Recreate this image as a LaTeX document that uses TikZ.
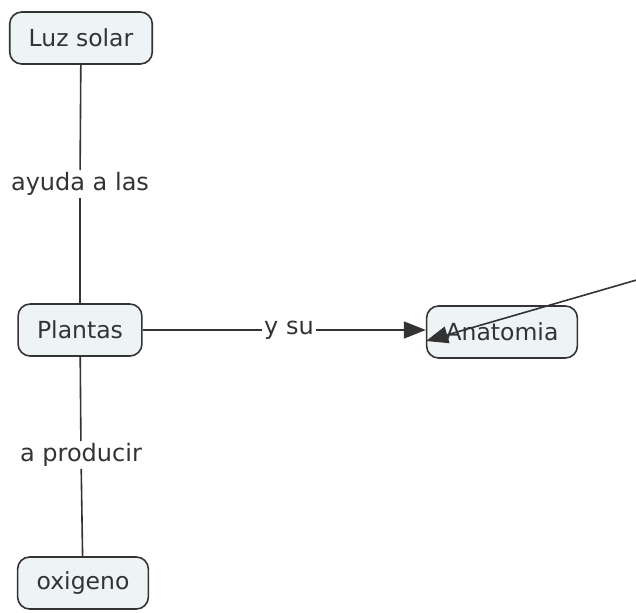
\documentclass[tikz,border=0pt]{standalone}
\usepackage{fontspec}
\setmainfont{DejaVu Sans}
\usetikzlibrary{arrows.meta, positioning}
\definecolor{cfill}{HTML}{EEF4F6}
\definecolor{cline}{HTML}{333333}
\tikzset{
  conc/.style = {draw=cline, fill=cfill, rounded corners=12pt, line width=1.6pt,
    minimum height=52pt, inner xsep=19pt, text=black!80, font=\fontsize{23.5}{26}\selectfont},
  lab/.style = {fill=white, inner sep=2pt, text=black!80, font=\fontsize{24}{26}\selectfont},
  lnk/.style = {draw=cline, line width=1.6pt},
  fl/.style = {lnk, -{Triangle[length=22pt, width=17pt]}}
}
\begin{document}
\begin{tikzpicture}[x=1pt, y=-1pt]
  \useasboundingbox (0,0) rectangle (636,612);
  % conceptos
  \node [conc] (luz) at (81,38) {Luz solar};
  \node [conc] (plantas) at (80,330) {Plantas};
  \node [conc] (anat) at (502,332) {Anatomia};
  \node [conc] (oxi) at (83,583) {oxigeno};
  % frases de enlace
  \node [lab] (ayuda) at (80,184) {ayuda a las};
  \node [lab] (ysu) at (289,330) {y su};
  \node [lab] (prod) at (81,455) {a producir};
  \coordinate (fuera) at (640,279);
  \coordinate (punta) at (426,341);
  % enlaces
  \draw [lnk] (luz) -- (ayuda);
  \draw [lnk] (ayuda) -- (plantas);
  \draw [lnk] (plantas) -- (ysu);
  \draw [fl] (ysu) -- (ysu -| anat.west);
  \draw [lnk] (plantas) -- (prod);
  \draw [lnk] (prod) -- (oxi);
  \draw [fl] (fuera) -- (punta);
\end{tikzpicture}
\end{document}
